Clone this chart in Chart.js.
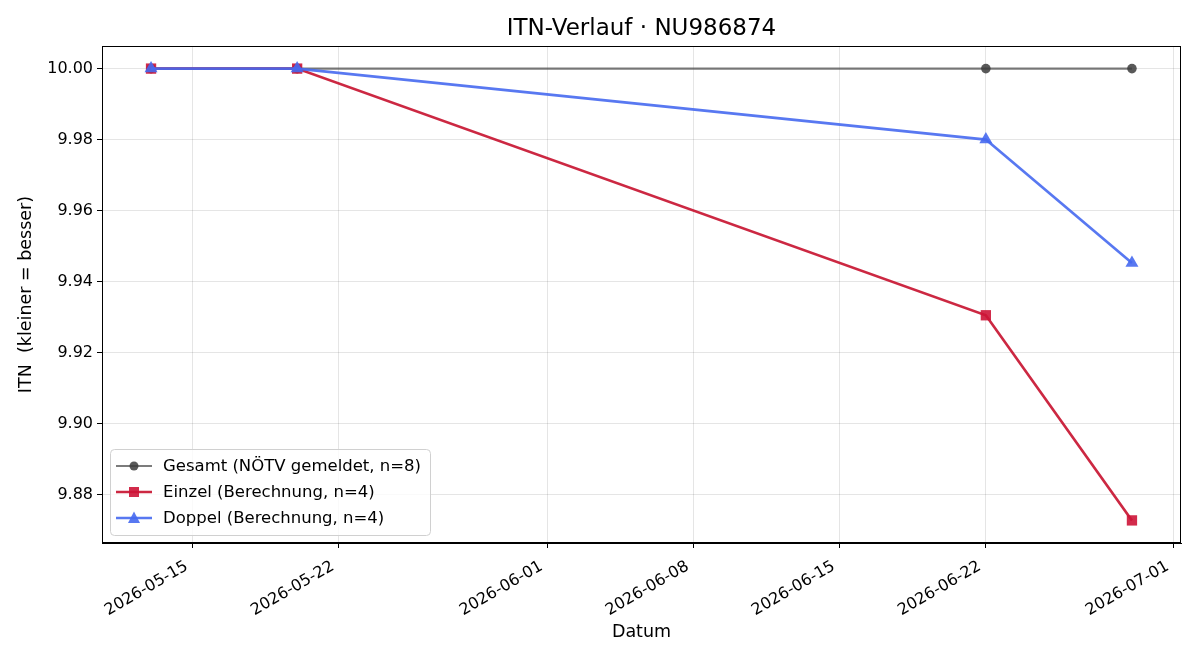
<!DOCTYPE html>
<html>
<head>
<meta charset="utf-8">
<script src="https://cdn.jsdelivr.net/npm/chart.js@4.4.1/dist/chart.umd.min.js"></script>
<style>
  html, body { margin: 0; padding: 0; background: #fff; }
  #wrap { width: 1200px; height: 660px; }
</style>
</head>
<body>
<div id="wrap"><canvas id="c" width="1200" height="660"></canvas></div>
<script>
// data
const dates = ['2026-05-13', '2026-05-20', '2026-06-22', '2026-06-29'];
const gesamt = [10.00, 10.00, 10.00, 10.00];
const einzel = [10.00, 10.00, 9.9305, 9.8727];
const doppel = [10.00, 10.00, 9.980, 9.9452];
const xTickLabels = ['2026-05-15', '2026-05-22', '2026-06-01', '2026-06-08', '2026-06-15', '2026-06-22', '2026-07-01'];
const yTickValues = [9.88, 9.90, 9.92, 9.94, 9.96, 9.98, 10.00];

const FONT = 'DejaVu Sans, sans-serif';
const toMs = s => Date.parse(s + 'T00:00:00Z');
const xs = dates.map(toMs);
const pts = arr => arr.map((v, i) => ({ x: xs[i], y: v }));

// matplotlib-like 5% margins
const xSpan = xs[xs.length - 1] - xs[0];
const allY = gesamt.concat(einzel, doppel);
const yMin = Math.min(...allY), yMax = Math.max(...allY);
const ySpan = yMax - yMin;

// legend marker half-sizes
const legendMarker = { circle: 4.5, rect: 5, triangle: 5.5 };

const framePlugin = {
    id: 'frame',
    afterDraw(chart) {
        const { ctx, chartArea: a } = chart;
        ctx.save();
        // axes frame
        ctx.strokeStyle = '#000';
        ctx.lineWidth = 1;
        ctx.strokeRect(a.left + 0.5, a.top + 0.5, a.right - a.left - 1, a.bottom - a.top - 1);

        // title
        ctx.fillStyle = '#000';
        ctx.font = '23px ' + FONT;
        ctx.textAlign = 'center';
        ctx.textBaseline = 'middle';
        ctx.fillText('ITN-Verlauf · NU986874', (a.left + a.right) / 2, 29);

        // legend inside the plot, lower left
        const ds = chart.data.datasets;
        const bx = a.left + 8, bw = 320, bh = 86;
        const by = a.bottom - 8 - bh;
        ctx.fillStyle = 'rgba(255,255,255,0.8)';
        ctx.strokeStyle = '#d0d0d0';
        ctx.beginPath();
        ctx.roundRect(bx + 0.5, by + 0.5, bw, bh, 4);
        ctx.fill();
        ctx.stroke();
        ctx.font = '16.5px ' + FONT;
        ctx.textAlign = 'left';
        ds.forEach((d, i) => {
            const y = by + 17 + i * 26;
            ctx.strokeStyle = d.borderColor;
            ctx.lineWidth = d.borderWidth;
            ctx.beginPath();
            ctx.moveTo(bx + 6, y);
            ctx.lineTo(bx + 42, y);
            ctx.stroke();
            ctx.fillStyle = d.pointBackgroundColor;
            const cx = bx + 24, r = legendMarker[d.pointStyle];
            ctx.beginPath();
            if (d.pointStyle === 'rect') {
                ctx.rect(cx - r, y - r, 2 * r, 2 * r);
            } else if (d.pointStyle === 'triangle') {
                ctx.moveTo(cx, y - r - 1);
                ctx.lineTo(cx + r + 0.5, y + r - 0.5);
                ctx.lineTo(cx - r - 0.5, y + r - 0.5);
                ctx.closePath();
            } else {
                ctx.arc(cx, y, r, 0, Math.PI * 2);
            }
            ctx.fill();
            ctx.fillStyle = '#000';
            ctx.fillText(d.label, bx + 53, y + 1);
        });
        ctx.restore();
    }
};

new Chart(document.getElementById('c'), {
    type: 'line',
    data: {
        datasets: [
            {
                label: 'Gesamt (NÖTV gemeldet, n=8)',
                data: pts(gesamt),
                borderColor: 'rgba(80,80,80,0.75)',
                borderWidth: 2.2,
                pointStyle: 'circle',
                pointRadius: 4.8,
                pointBackgroundColor: 'rgba(60,60,60,0.85)',
                pointBorderColor: 'rgba(60,60,60,0.85)',
                pointBorderWidth: 0,
                order: 3
            },
            {
                label: 'Einzel (Berechnung, n=4)',
                data: pts(einzel),
                borderColor: 'rgba(200,22,50,0.92)',
                borderWidth: 2.7,
                pointStyle: 'rect',
                pointRadius: 7.3,
                pointBackgroundColor: 'rgba(205,20,55,0.9)',
                pointBorderColor: 'rgba(205,20,55,0.9)',
                pointBorderWidth: 0,
                order: 2
            },
            {
                label: 'Doppel (Berechnung, n=4)',
                data: pts(doppel),
                borderColor: 'rgba(70,105,240,0.9)',
                borderWidth: 2.7,
                pointStyle: 'triangle',
                pointRadius: 7.5,
                pointBackgroundColor: 'rgba(70,105,240,0.9)',
                pointBorderColor: 'rgba(70,105,240,0.9)',
                pointBorderWidth: 0,
                order: 1
            }
        ]
    },
    options: {
        responsive: false,
        animation: false,
        devicePixelRatio: 1,
        layout: { padding: { top: 46, right: 19, left: 0, bottom: 0 } },
        plugins: {
            legend: { display: false },
            title: { display: false },
            tooltip: { enabled: false }
        },
        scales: {
            x: {
                type: 'linear',
                min: xs[0] - xSpan * 0.05,
                max: xs[xs.length - 1] + xSpan * 0.05,
                afterBuildTicks: s => { s.ticks = xTickLabels.map(t => ({ value: toMs(t) })); },
                afterFit: s => { s.height = 117; },
                ticks: {
                    autoSkip: false,
                    minRotation: 30,
                    maxRotation: 30,
                    padding: 9,
                    labelOffset: -6,
                    color: '#000',
                    font: { family: FONT, size: 16 },
                    callback: v => new Date(v).toISOString().slice(0, 10)
                },
                grid: { color: 'rgba(0,0,0,0.1)', tickColor: '#000', tickLength: 5, lineWidth: 1 },
                border: { color: '#000' },
                title: {
                    display: true,
                    text: 'Datum',
                    color: '#000',
                    font: { family: FONT, size: 17.5 },
                    padding: { top: 0, bottom: 17 }
                }
            },
            y: {
                min: yMin - ySpan * 0.05,
                max: yMax + ySpan * 0.05,
                afterBuildTicks: s => { s.ticks = yTickValues.map(v => ({ value: v })); },
                afterFit: s => { s.width = 102; },
                ticks: {
                    padding: 4,
                    color: '#000',
                    font: { family: FONT, size: 16 },
                    callback: v => v.toFixed(2)
                },
                grid: { color: 'rgba(0,0,0,0.1)', tickColor: '#000', tickLength: 5, lineWidth: 1 },
                border: { color: '#000' },
                title: {
                    display: true,
                    text: 'ITN  (kleiner = besser)',
                    color: '#000',
                    font: { family: FONT, size: 17.5 },
                    padding: { top: 16, bottom: 0 }
                }
            }
        }
    },
    plugins: [framePlugin]
});
</script>
</body>
</html>
